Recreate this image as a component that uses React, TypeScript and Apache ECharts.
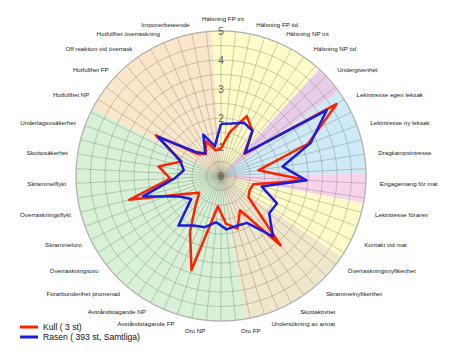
import React, { useEffect, useRef } from "react";
import * as echarts from "echarts";

const indicatorNames = [
  "Hälsning FP int",
  "Hälsning FP tid",
  "Hälsning NP int",
  "Hälsning NP tid",
  "Undergivenhet",
  "Lekintresse egen leksak",
  "Lekintresse ny leksak",
  "Dragkampsintresse",
  "Engagemang för mat",
  "Lekintresse föraren",
  "Kontakt vid mat",
  "Överraskningsnyfikenhet",
  "Skrammelnyfikenhet",
  "Skottaktivitet",
  "Undersökning av annat",
  "Oro FP",
  "Oro NP",
  "Avståndstagande FP",
  "Avståndstagande NP",
  "Förarbundenhet promenad",
  "Överraskningsoro",
  "Skrammeloro",
  "Överraskningsflykt",
  "Skrammelflykt",
  "Skottosäkerhet",
  "Underlagsosäkerhet",
  "Hotfullhet NP",
  "Hotfullhet FP",
  "Off reaktion vid överrask",
  "Hotfullhet överraskning",
  "Imponerbeteende",
];

const sectorGroups = [
  "yellow", "yellow", "yellow", "yellow",
  "purple",
  "blue", "blue", "blue",
  "pink",
  "yellow", "yellow",
  "tan", "tan", "tan", "tan",
  "green", "green", "green", "green", "green", "green", "green", "green", "green", "green", "green",
  "peach", "peach", "peach", "peach", "peach",
];

const groupColors: Record<string, string> = {
  yellow: "#fdfcc9",
  purple: "#e8cde8",
  blue: "#cdeaf6",
  pink: "#f8d4ec",
  tan: "#efe6cc",
  green: "#d6f1d6",
  peach: "#fbe6cb",
};

const kullValues = [
  0.95, 1.55, 2.25, 1.9, 1.1, 4.7, 3.2, 1.3, 2.95, 1.15, 1.1, 1.2, 3.15, 1.35, 1.9, 1.65,
  1.05, 3.4, 2.2, 1.35, 0.95, 1.4, 3.27, 1.75, 2.18, 1.45, 2.65, 1.1, 0.92, 1.3, 0.9,
];

const rasenValues = [
  1.8, 1.85, 2.0, 1.9, 1.15, 4.3, 3.3, 2.15, 2.95, 1.45, 2.15, 2.1, 2.75, 1.85, 1.8, 1.85,
  1.6, 1.85, 1.95, 2.25, 1.3, 1.6, 2.77, 1.6, 1.3, 1.5, 2.55, 1.2, 0.95, 1.55, 1.05,
];

const tickLabels = ["0", "1", "2", "3", "4", "5"];
const seriesNames = ["Kull ( 3 st)", "Rasen ( 393 st, Samtliga)"];
const seriesColors = ["#ff2200", "#1c1cdc"];

const CENTER = [221, 176];
const RADIUS = 145;
const FONT = "'Liberation Sans', Arial, sans-serif";

export default function App() {
  const ref = useRef<HTMLDivElement>(null);
  useEffect(() => {
    const chart = echarts.init(ref.current!, null, { renderer: "svg" });
    const n = indicatorNames.length;
    // radar places indicators counter-clockwise; reorder so they run clockwise
    const order = [0, ...indicatorNames.map((_, i) => n - 1 - i).slice(0, n - 1)];
    const gridLine = { color: "rgba(110,110,95,0.42)", width: 0.8 };

    chart.setOption({
      animation: false,
      backgroundColor: "#ffffff",
      polar: [
        { center: CENTER, radius: RADIUS },
        { center: CENTER, radius: RADIUS },
      ],
      angleAxis: [
        {
          polarIndex: 0,
          type: "category",
          data: indicatorNames,
          startAngle: 90 + 180 / n - 2,
          clockwise: true,
          boundaryGap: true,
          axisLine: { show: false },
          axisTick: { show: false },
          axisLabel: { show: false },
          splitLine: { show: false },
          z: 0,
        },
        {
          polarIndex: 1,
          type: "value",
          min: 0,
          max: 360,
          interval: 360 / (2 * n),
          startAngle: 90,
          clockwise: true,
          axisLine: { show: true, lineStyle: { color: "#cfcfcf", width: 1.5 } },
          axisTick: { show: false },
          axisLabel: { show: false },
          splitLine: { show: true, lineStyle: gridLine },
          z: 3,
        },
      ],
      radiusAxis: [
        { polarIndex: 0, type: "value", min: 0, max: 5, show: false },
        {
          polarIndex: 1,
          type: "value",
          min: 0,
          max: 5,
          interval: 0.5,
          axisLine: { show: false },
          axisTick: { show: false },
          splitLine: { show: true, lineStyle: gridLine },
          axisLabel: {
            formatter: (v: number) => (Number.isInteger(v) ? tickLabels[v] : ""),
            margin: 0,
            align: "center",
            verticalAlign: "middle",
            fontSize: 10,
            color: "#5e5e50",
            fontFamily: FONT,
          },
          z: 4,
        },
      ],
      radar: {
        center: CENTER,
        radius: RADIUS,
        startAngle: 90,
        shape: "circle",
        nameGap: 10,
        indicator: order.map((i) => ({ name: indicatorNames[i], min: 0, max: 5 })),
        axisName: {
          color: "#1a1a1a",
          fontSize: 6.2,
          fontFamily: FONT,
          padding: [0, 0, 0, 4],
        },
        axisLine: { show: false },
        axisTick: { show: false },
        axisLabel: { show: false },
        splitLine: { show: false },
        splitArea: { show: false },
        z: 5,
      },
      legend: {
        data: seriesNames,
        orient: "vertical",
        left: 20,
        top: 322,
        padding: 0,
        icon: "rect",
        itemWidth: 18,
        itemHeight: 3,
        itemGap: 0,
        textStyle: { fontSize: 8.6, color: "#111", fontFamily: FONT, lineHeight: 10 },
      },
      series: [
        {
          type: "bar",
          coordinateSystem: "polar",
          polarIndex: 0,
          barCategoryGap: "0%",
          silent: true,
          z: 1,
          data: indicatorNames.map((_, i) => ({
            value: 5,
            itemStyle: { color: groupColors[sectorGroups[i]] },
          })),
        },
        {
          type: "radar",
          z: 6,
          symbol: "none",
          data: [
            {
              name: seriesNames[0],
              value: order.map((i) => kullValues[i]),
              lineStyle: { color: seriesColors[0], width: 2.5 },
              itemStyle: { color: seriesColors[0] },
            },
            {
              name: seriesNames[1],
              value: order.map((i) => rasenValues[i]),
              lineStyle: { color: seriesColors[1], width: 2.5 },
              itemStyle: { color: seriesColors[1] },
            },
          ],
        },
      ],
    });
    return () => chart.dispose();
  }, []);
  return (
    <div
      ref={ref}
      style={{ position: "absolute", left: 0, top: 0, width: 450, height: 360, background: "#fff" }}
    />
  );
}
